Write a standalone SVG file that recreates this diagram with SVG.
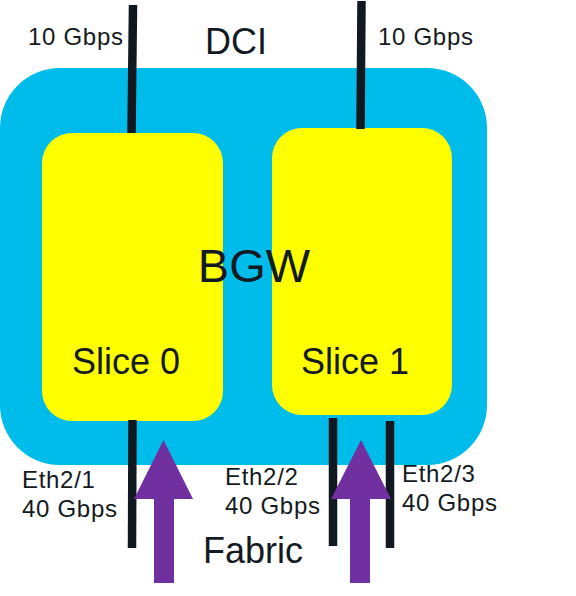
<svg xmlns="http://www.w3.org/2000/svg" width="576" height="596" viewBox="0 0 576 596">
<style>
.t{font-family:"Liberation Sans",Arial,sans-serif;fill:#141a21}
.s{font-size:24px;letter-spacing:0.7px}
.b{font-size:36px}
.link{stroke:#111820;stroke-width:8.5;fill:none}
.arrow{fill:#7030A0}
</style>
<rect width="576" height="596" fill="#ffffff"/>
<g id="bgw">
<rect x="0" y="68" width="487" height="397" rx="60" ry="60" fill="#00BCEA"/>
</g>
<g id="slice0">
<rect x="42" y="133" width="181" height="288" rx="30" ry="30" fill="#FFFF00"/>
<text class="t b" x="126" y="374" text-anchor="middle">Slice 0</text>
</g>
<g id="slice1">
<rect x="272" y="128" width="180" height="287" rx="30" ry="30" fill="#FFFF00"/>
<text class="t b" x="355" y="374" text-anchor="middle">Slice 1</text>
</g>
<g id="bgw-label">
<text class="t" x="254" y="282" font-size="47" text-anchor="middle">BGW</text>
</g>
<g id="dci">
<text class="t b" x="236" y="54" text-anchor="middle">DCI</text>
</g>
<g id="fabric">
<text class="t b" x="253" y="563" text-anchor="middle">Fabric</text>
</g>
<g id="connectors">
<line class="link" x1="133" y1="5" x2="131.5" y2="133"/>
<line class="link" x1="361.5" y1="1" x2="360.5" y2="129"/>
<line class="link" x1="132.5" y1="420" x2="132" y2="548"/>
<line class="link" x1="333" y1="418" x2="333" y2="546"/>
<line class="link" x1="390" y1="421" x2="390" y2="548"/>
<polygon class="arrow" points="163.5,440 193,499 174,499 174,583 154,583 154,499 134,499"/>
<polygon class="arrow" points="361,440 391,499 370,499 370,583 350,583 350,499 331,499"/>
</g>
<g id="labels">
<text class="t s" x="28" y="45">10 Gbps</text>
<text class="t s" x="378" y="45">10 Gbps</text>
<text class="t s" x="22" y="488">Eth2/1</text>
<text class="t s" x="22" y="517">40 Gbps</text>
<text class="t s" x="225" y="485">Eth2/2</text>
<text class="t s" x="225" y="514">40 Gbps</text>
<text class="t s" x="402" y="482">Eth2/3</text>
<text class="t s" x="402" y="511">40 Gbps</text>
</g>
</svg>
